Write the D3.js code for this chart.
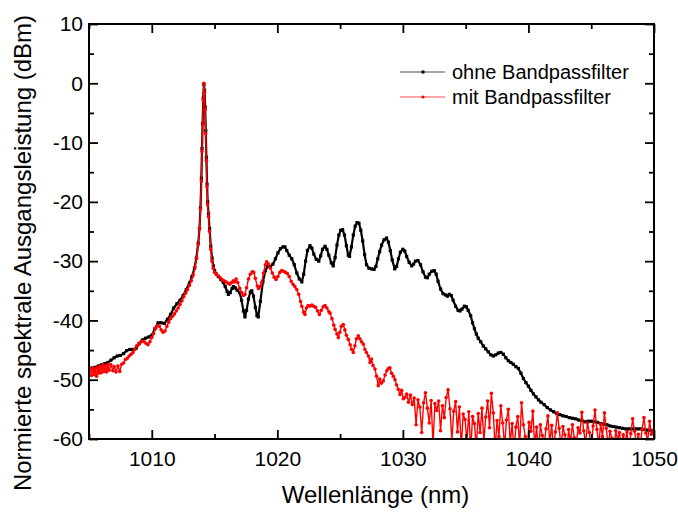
<!DOCTYPE html>
<html>
<head>
<meta charset="utf-8">
<script src="https://cdn.jsdelivr.net/npm/d3@7"></script>
<style>
  body { margin: 0; background: #fff; }
  text { font-family: "Liberation Sans", Arial, sans-serif; fill: #000; }
</style>
</head>
<body>
<svg id="chart" width="678" height="512"></svg>
<script>
// Spectrum without band-pass filter: [wavelength nm, power dBm]
const blackSpectrum = [
  [1005.0,-48.2],[1005.25,-48.0],[1005.5,-47.9],[1005.75,-47.7],[1006.0,-47.5],[1006.25,-47.3],[1006.5,-47.1],
  [1006.75,-46.7],[1007.0,-46.3],[1007.25,-46.0],[1007.5,-45.9],[1007.75,-45.6],[1008.0,-45.1],[1008.25,-44.9],
  [1008.5,-44.9],[1008.75,-44.7],[1009.0,-43.9],[1009.25,-43.3],[1009.5,-43.0],[1009.75,-42.8],[1010.0,-42.5],
  [1010.25,-41.4],[1010.5,-40.4],[1010.75,-40.4],[1011.0,-40.5],[1011.25,-39.8],[1011.5,-39.0],[1011.75,-37.9],
  [1012.0,-37.2],[1012.25,-36.6],[1012.5,-35.8],[1012.75,-34.8],[1013.0,-33.7],[1013.2,-32.6],[1013.4,-31.2],
  [1013.55,-29.5],[1013.7,-27.0],[1013.8,-24.5],[1013.88,-21.0],[1013.95,-16.0],[1014.0,-11.0],[1014.05,-6.8],
  [1014.1,-2.5],[1014.15,-0.2],[1014.2,-1.2],[1014.25,-4.0],[1014.3,-8.0],[1014.35,-12.5],[1014.4,-17.0],
  [1014.45,-20.0],[1014.52,-22.0],[1014.6,-24.5],[1014.7,-27.5],[1014.8,-29.5],[1014.9,-30.8],
  [1015.0,-31.6],[1015.15,-32.2],[1015.3,-32.6],[1015.5,-33.1],[1015.7,-33.6],[1015.85,-34.3],[1016.0,-35.1],
  [1016.1,-35.6],[1016.25,-35.3],[1016.4,-34.6],[1016.5,-34.3],[1016.65,-34.5],[1016.8,-34.9],[1017.0,-35.3],
  [1017.15,-36.6],[1017.3,-38.4],[1017.42,-39.4],[1017.55,-38.3],[1017.7,-36.4],[1017.85,-35.2],[1017.96,-35.0],
  [1018.1,-35.9],[1018.25,-37.8],[1018.38,-39.2],[1018.48,-39.4],[1018.65,-36.8],[1018.85,-33.5],[1019.05,-31.6],
  [1019.25,-30.8],[1019.45,-30.9],[1019.65,-30.5],[1019.85,-29.6],[1020.05,-28.6],[1020.25,-27.9],[1020.45,-27.6],
  [1020.6,-27.6],[1020.75,-28.2],[1020.95,-29.0],[1021.15,-29.6],[1021.35,-30.6],[1021.55,-32.0],[1021.75,-33.0],
  [1021.95,-33.5],[1022.1,-32.2],[1022.25,-30.0],[1022.4,-28.2],[1022.6,-27.4],[1022.75,-27.8],[1022.9,-28.8],
  [1023.1,-29.7],[1023.3,-30.0],[1023.45,-29.1],[1023.6,-28.0],[1023.8,-27.5],[1023.95,-28.0],[1024.1,-29.0],
  [1024.3,-30.3],[1024.45,-30.8],[1024.6,-29.4],[1024.75,-27.3],[1024.9,-25.6],[1025.05,-24.8],[1025.2,-24.7],
  [1025.35,-25.6],[1025.5,-27.4],[1025.65,-29.0],[1025.75,-29.2],[1025.9,-27.6],[1026.05,-25.6],[1026.2,-24.1],
  [1026.35,-23.5],[1026.5,-23.6],[1026.65,-24.8],[1026.8,-26.6],[1026.95,-28.9],[1027.1,-30.6],[1027.3,-31.2],
  [1027.5,-31.3],[1027.7,-31.4],[1027.85,-30.9],[1028.0,-29.6],[1028.15,-28.4],[1028.3,-27.3],[1028.5,-26.4],
  [1028.7,-26.1],[1028.85,-26.8],[1029.0,-28.2],[1029.15,-29.8],[1029.35,-31.3],[1029.5,-30.9],[1029.65,-29.6],
  [1029.8,-28.5],[1030.0,-28.0],[1030.15,-28.3],[1030.3,-29.2],[1030.5,-30.2],[1030.7,-30.8],[1030.85,-30.5],
  [1031.0,-30.0],[1031.2,-29.9],[1031.4,-30.6],[1031.6,-31.8],[1031.8,-32.7],[1031.95,-32.8],[1032.1,-32.2],
  [1032.3,-31.7],[1032.5,-31.6],[1032.65,-32.2],[1032.8,-33.4],[1033.0,-34.7],[1033.2,-35.5],[1033.4,-35.7],
  [1033.55,-35.9],[1033.7,-35.6],[1033.85,-35.8],[1034.0,-36.6],[1034.2,-37.6],[1034.4,-38.3],[1034.55,-38.4],
  [1034.7,-38.1],[1034.9,-37.6],[1035.05,-37.7],[1035.2,-38.3],[1035.4,-39.2],[1035.55,-40.4],[1035.7,-41.4],
  [1035.85,-42.3],[1036.0,-43.0],[1036.2,-43.6],[1036.4,-44.3],[1036.6,-44.8],[1036.8,-45.3],[1037.0,-45.8],
  [1037.2,-46.0],[1037.4,-45.8],[1037.6,-45.5],[1037.8,-45.4],[1038.0,-45.7],[1038.2,-46.3],[1038.4,-46.8],
  [1038.6,-47.1],[1038.8,-47.4],[1039.0,-47.8],[1039.2,-48.1],[1039.4,-48.9],[1039.6,-49.8],[1039.8,-50.5],
  [1040.0,-51.1],[1040.2,-51.8],[1040.4,-52.4],[1040.6,-52.9],[1040.8,-53.4],[1041.0,-53.8],[1041.25,-54.2],
  [1041.5,-54.7],[1041.75,-55.1],[1042.0,-55.4],[1042.25,-55.7],[1042.5,-55.9],[1042.75,-56.1],[1043.0,-56.2],
  [1043.25,-56.4],[1043.5,-56.5],[1043.75,-56.6],[1044.0,-56.8],[1044.25,-56.9],[1044.5,-57.1],[1044.75,-57.0],
  [1045.0,-57.0],[1045.25,-57.1],[1045.5,-57.2],[1045.75,-57.4],[1046.0,-57.5],[1046.25,-57.6],[1046.5,-57.8],
  [1046.75,-57.9],[1047.0,-58.0],[1047.25,-58.1],[1047.5,-58.2],[1047.75,-58.3],[1048.0,-58.3],[1048.25,-58.3],
  [1048.5,-58.3],[1048.75,-58.3],[1049.0,-58.3],[1049.25,-58.4],[1049.5,-58.5],[1049.75,-58.6],[1050.0,-58.7]
];

// Spectrum with band-pass filter: [wavelength nm, power dBm]
const redSpectrum = [
  [1005.0,-49.2],[1005.1,-48.2],[1005.2,-49.3],[1005.3,-48.0],[1005.4,-49.1],[1005.5,-48.2],[1005.6,-49.4],
  [1005.7,-47.9],[1005.8,-48.9],[1005.9,-47.8],[1006.0,-48.8],[1006.1,-47.5],[1006.2,-48.6],[1006.3,-47.7],
  [1006.4,-48.7],[1006.5,-47.4],[1006.6,-48.4],[1006.75,-47.5],[1006.9,-48.5],[1007.0,-47.8],[1007.15,-48.7],
  [1007.3,-47.7],[1007.45,-48.6],[1007.6,-47.4],[1007.75,-47.2],[1007.9,-46.6],[1008.05,-46.4],[1008.2,-46.0],
  [1008.35,-45.7],[1008.5,-45.4],[1008.65,-44.9],[1008.8,-44.3],[1008.95,-44.0],[1009.1,-43.7],[1009.25,-43.5],
  [1009.4,-43.6],[1009.55,-43.9],[1009.7,-44.1],[1009.85,-43.6],[1010.0,-42.9],[1010.15,-42.2],[1010.3,-41.3],
  [1010.45,-40.9],[1010.6,-41.0],[1010.75,-41.6],[1010.9,-42.0],[1011.05,-41.8],[1011.2,-41.0],[1011.35,-40.3],
  [1011.5,-39.7],[1011.65,-39.3],[1011.8,-38.9],[1011.95,-38.4],[1012.1,-37.9],[1012.25,-37.3],[1012.4,-36.7],
  [1012.55,-36.0],[1012.7,-35.4],[1012.85,-34.8],[1013.0,-34.1],[1013.15,-33.3],[1013.3,-32.3],[1013.45,-31.0],
  [1013.57,-29.5],[1013.7,-27.2],[1013.8,-24.5],[1013.88,-21.2],[1013.95,-16.5],[1014.0,-11.5],[1014.05,-7.0],
  [1014.1,-2.8],[1014.15,0.0],[1014.2,-1.5],[1014.25,-4.5],[1014.3,-8.5],[1014.35,-13.0],[1014.4,-17.5],
  [1014.45,-20.5],[1014.52,-22.5],[1014.6,-25.0],[1014.7,-28.0],[1014.8,-30.0],[1014.9,-31.2],
  [1015.0,-31.9],[1015.15,-32.2],[1015.3,-32.5],[1015.45,-32.8],[1015.6,-33.1],[1015.75,-33.3],[1015.9,-33.5],
  [1016.05,-33.7],[1016.2,-33.9],[1016.35,-33.6],[1016.5,-33.3],[1016.6,-33.5],[1016.72,-33.0],[1016.85,-33.6],
  [1017.0,-34.6],[1017.15,-35.3],[1017.3,-35.8],[1017.42,-35.6],[1017.55,-34.5],[1017.7,-33.0],[1017.85,-32.2],
  [1018.0,-31.8],[1018.12,-31.9],[1018.25,-32.9],[1018.4,-34.2],[1018.5,-34.6],[1018.62,-34.3],[1018.75,-33.6],
  [1018.9,-32.0],[1019.05,-30.6],[1019.15,-30.1],[1019.3,-30.5],[1019.45,-31.2],[1019.6,-32.0],[1019.75,-32.7],
  [1019.9,-33.1],[1020.05,-32.6],[1020.2,-31.9],[1020.35,-31.6],[1020.5,-31.7],[1020.65,-31.9],[1020.8,-32.1],
  [1020.95,-32.6],[1021.1,-33.4],[1021.25,-33.9],[1021.4,-34.3],[1021.55,-34.8],[1021.7,-35.6],[1021.85,-36.8],
  [1021.95,-37.6],[1022.1,-38.6],[1022.2,-39.0],[1022.32,-37.9],[1022.45,-37.5],[1022.6,-37.6],[1022.75,-37.4],
  [1022.9,-37.6],[1023.05,-37.8],[1023.2,-38.4],[1023.35,-39.0],[1023.5,-38.3],[1023.65,-37.7],[1023.8,-37.5],
  [1023.95,-37.9],[1024.1,-38.5],[1024.2,-38.8],[1024.35,-39.7],[1024.5,-40.8],[1024.6,-41.5],[1024.75,-42.3],
  [1024.86,-42.9],[1024.98,-42.0],[1025.1,-41.0],[1025.25,-40.7],[1025.38,-41.6],[1025.5,-42.5],[1025.65,-43.2],
  [1025.8,-44.1],[1025.92,-44.9],[1026.05,-45.4],[1026.18,-44.3],[1026.3,-43.1],[1026.45,-42.6],[1026.58,-43.1],
  [1026.7,-43.6],[1026.85,-44.0],[1026.98,-44.9],[1027.1,-45.4],[1027.25,-46.0],[1027.38,-47.1],[1027.5,-46.5],
  [1027.62,-47.6],[1027.78,-48.2],[1027.9,-49.4],[1028.04,-51.0],[1028.15,-49.9],[1028.28,-50.6],[1028.44,-50.2],
  [1028.58,-49.2],[1028.72,-48.5],[1028.85,-48.1],[1028.97,-48.0],[1029.1,-48.9],[1029.24,-49.4],[1029.37,-50.0],
  [1029.5,-50.9],[1029.63,-51.6],[1029.77,-52.5],[1029.9,-51.8],[1030.03,-53.2],
  [1030.15,-53.0],[1030.3,-52.4],[1030.45,-53.8],[1030.6,-52.6],[1030.75,-54.2],[1030.9,-53.1],[1031.05,-57.6],
  [1031.2,-53.4],[1031.35,-54.6],[1031.5,-58.9],[1031.65,-53.9],[1031.8,-52.2],[1031.95,-54.8],[1032.1,-57.3],
  [1032.25,-53.5],[1032.4,-61.0],[1032.55,-54.0],[1032.7,-55.2],[1032.85,-53.6],[1033.0,-58.6],[1033.15,-54.4],
  [1033.3,-56.4],[1033.45,-53.0],[1033.6,-51.7],[1033.75,-54.9],[1033.9,-60.2],[1034.05,-55.3],[1034.2,-53.7],
  [1034.35,-58.8],[1034.5,-54.6],[1034.65,-61.5],[1034.8,-55.8],[1034.95,-56.7],[1035.1,-60.4],[1035.25,-55.4],
  [1035.4,-62.0],[1035.55,-56.2],[1035.7,-57.4],[1035.85,-61.6],[1036.0,-55.7],[1036.15,-58.9],[1036.3,-54.8],
  [1036.45,-60.4],[1036.6,-56.3],[1036.75,-53.6],[1036.9,-58.1],[1037.05,-52.3],[1037.2,-55.6],[1037.35,-61.8],
  [1037.5,-56.9],[1037.65,-59.6],[1037.8,-54.4],[1037.95,-57.3],[1038.1,-61.2],[1038.25,-56.8],[1038.4,-55.0],
  [1038.55,-60.7],[1038.7,-57.4],[1038.85,-62.1],[1039.0,-58.0],[1039.15,-56.2],[1039.3,-61.3],[1039.45,-53.9],
  [1039.6,-57.6],[1039.75,-59.6],[1039.9,-61.8],[1040.05,-57.2],[1040.2,-58.7],[1040.35,-55.3],[1040.5,-61.2],
  [1040.65,-58.0],[1040.8,-62.5],[1040.95,-57.6],[1041.1,-59.4],[1041.25,-61.0],[1041.4,-58.3],[1041.55,-56.1],
  [1041.7,-60.7],[1041.85,-57.7],[1042.0,-61.6],[1042.15,-58.8],[1042.3,-55.6],[1042.45,-58.2],[1042.6,-61.4],
  [1042.75,-57.9],[1042.9,-59.3],[1043.05,-62.3],[1043.2,-58.4],[1043.35,-60.6],[1043.5,-57.6],[1043.65,-59.8],
  [1043.8,-61.4],[1043.95,-58.1],[1044.1,-59.0],[1044.25,-55.5],[1044.4,-58.6],[1044.55,-60.7],[1044.7,-57.3],
  [1044.85,-58.9],[1045.0,-61.9],[1045.15,-57.8],[1045.3,-55.1],[1045.45,-58.4],[1045.6,-60.9],[1045.75,-57.5],
  [1045.9,-59.6],[1046.05,-55.6],[1046.2,-58.2],[1046.35,-61.3],[1046.5,-58.7],[1046.65,-59.9],[1046.8,-62.0],
  [1046.95,-58.6],[1047.1,-60.1],[1047.25,-58.9],[1047.4,-61.2],[1047.55,-59.3],[1047.7,-60.6],[1047.85,-58.8],
  [1048.0,-62.4],[1048.15,-59.1],[1048.3,-56.6],[1048.45,-58.7],[1048.6,-60.8],[1048.75,-59.2],[1048.9,-61.5],
  [1049.05,-58.4],[1049.2,-56.4],[1049.35,-59.0],[1049.5,-60.3],[1049.65,-57.0],[1049.8,-59.2],[1049.95,-58.5]
];

const seriesNames = ["ohne Bandpassfilter", "mit Bandpassfilter"];
const seriesColors = ["#000000", "#ff0000"];
const xMajorTicks = [1010, 1020, 1030, 1040, 1050];
const xMinorTicks = [1005, 1015, 1025, 1035, 1045];
const yMajorTicks = [10, 0, -10, -20, -30, -40, -50, -60];
const yMinorTicks = [5, -5, -15, -25, -35, -45, -55];
const xTitle = "Wellenlänge (nm)";
const yTitle = "Normierte spektrale Ausgangsleistung (dBm)";

const svg = d3.select("#chart");
const plotLeft = 89, plotRight = 654, plotTop = 24, plotBottom = 439;

const x = d3.scaleLinear().domain([1005, 1050]).range([plotLeft, plotRight]);
const y = d3.scaleLinear().domain([-60, 10]).range([plotBottom, plotTop]);

svg.append("rect").attr("width", 678).attr("height", 512).attr("fill", "#fff");

svg.append("defs").append("clipPath").attr("id", "plotClip")
  .append("rect").attr("x", plotLeft).attr("y", plotTop)
  .attr("width", plotRight - plotLeft).attr("height", plotBottom - plotTop);

// Curves (black first, red drawn on top)
const line = d3.line().x(d => x(d[0])).y(d => y(d[1]));
const plot = svg.append("g").attr("clip-path", "url(#plotClip)");

plot.append("path").datum(blackSpectrum)
  .attr("fill", "none").attr("stroke", seriesColors[0]).attr("stroke-width", 2.2)
  .attr("stroke-linejoin", "round").attr("d", line);
plot.append("g").selectAll("rect").data(blackSpectrum).join("rect")
  .attr("x", d => x(d[0]) - 1.6).attr("y", d => y(d[1]) - 1.6)
  .attr("width", 3.2).attr("height", 3.2).attr("fill", seriesColors[0]);

plot.append("path").datum(redSpectrum)
  .attr("fill", "none").attr("stroke", seriesColors[1]).attr("stroke-width", 1.4)
  .attr("stroke-linejoin", "round").attr("d", line);
plot.append("g").selectAll("circle").data(redSpectrum).join("circle")
  .attr("cx", d => x(d[0])).attr("cy", d => y(d[1]))
  .attr("r", 1.8).attr("fill", seriesColors[1]);

// Axes with inward ticks on all four sides
function styleAxis(g, fontSize) {
  g.select(".domain").remove();
  g.selectAll(".tick line").attr("stroke", "#000").attr("stroke-width", 1.8);
  g.selectAll(".tick text").attr("font-size", fontSize)
    .style("font-family", '"Liberation Sans", Arial, sans-serif');
}

svg.append("g").attr("transform", `translate(0,${plotBottom})`)
  .call(d3.axisBottom(x).tickValues(xMajorTicks).tickSize(-9).tickPadding(12).tickFormat(String))
  .call(g => styleAxis(g, 21));
svg.append("g").attr("transform", `translate(0,${plotBottom})`)
  .call(d3.axisBottom(x).tickValues(xMinorTicks).tickSize(-5).tickFormat(""))
  .call(g => styleAxis(g, 0));
svg.append("g").attr("transform", `translate(0,${plotTop})`)
  .call(d3.axisTop(x).tickValues(xMajorTicks).tickSize(-9).tickFormat(""))
  .call(g => styleAxis(g, 0));
svg.append("g").attr("transform", `translate(0,${plotTop})`)
  .call(d3.axisTop(x).tickValues(xMinorTicks).tickSize(-5).tickFormat(""))
  .call(g => styleAxis(g, 0));

svg.append("g").attr("transform", `translate(${plotLeft},0)`)
  .call(d3.axisLeft(y).tickValues(yMajorTicks).tickSize(-9).tickPadding(6).tickFormat(String))
  .call(g => styleAxis(g, 21));
svg.append("g").attr("transform", `translate(${plotLeft},0)`)
  .call(d3.axisLeft(y).tickValues(yMinorTicks).tickSize(-5).tickFormat(""))
  .call(g => styleAxis(g, 0));
svg.append("g").attr("transform", `translate(${plotRight},0)`)
  .call(d3.axisRight(y).tickValues(yMajorTicks).tickSize(-9).tickFormat(""))
  .call(g => styleAxis(g, 0));
svg.append("g").attr("transform", `translate(${plotRight},0)`)
  .call(d3.axisRight(y).tickValues(yMinorTicks).tickSize(-5).tickFormat(""))
  .call(g => styleAxis(g, 0));

// Frame
svg.append("rect").attr("x", plotLeft).attr("y", plotTop)
  .attr("width", plotRight - plotLeft).attr("height", plotBottom - plotTop)
  .attr("fill", "none").attr("stroke", "#000").attr("stroke-width", 2);

// Axis titles
svg.append("text").attr("x", (plotLeft + plotRight) / 2 + 4).attr("y", 503)
  .attr("text-anchor", "middle").attr("font-size", 24).text(xTitle);
svg.append("text").attr("transform", "translate(31,253) rotate(-90)")
  .attr("text-anchor", "middle").attr("font-size", 24).text(yTitle);

// Legend
const legendRows = [72, 97];
const legend = svg.append("g");
seriesNames.forEach((name, i) => {
  const row = legend.append("g").attr("transform", `translate(0,${legendRows[i]})`);
  row.append("line").attr("x1", 400).attr("x2", 445).attr("y1", 0).attr("y2", 0)
    .attr("stroke", seriesColors[i]).attr("stroke-width", 1).attr("stroke-opacity", 0.7);
  if (i === 0) {
    row.append("rect").attr("x", 421.5).attr("y", -1.5).attr("width", 3).attr("height", 3)
      .attr("fill", seriesColors[i]);
  } else {
    row.append("circle").attr("cx", 423).attr("cy", 0).attr("r", 1.6).attr("fill", seriesColors[i]);
  }
  row.append("text").attr("x", 452).attr("y", 0).attr("dy", "0.35em")
    .attr("font-size", 20).text(name);
});
</script>
</body>
</html>
